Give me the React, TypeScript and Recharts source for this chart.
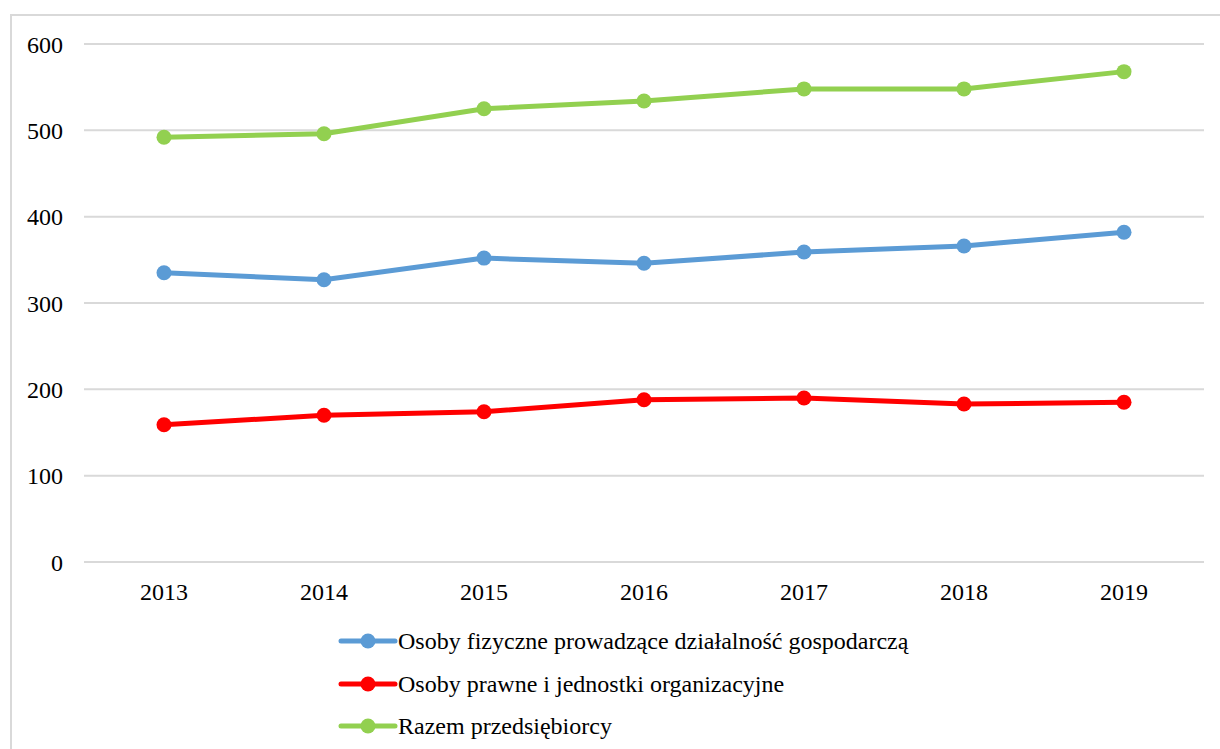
import { LineChart, Line, XAxis, YAxis, CartesianGrid } from 'recharts'

const years = ['2013', '2014', '2015', '2016', '2017', '2018', '2019']
const fizyczne = [335, 327, 352, 346, 359, 366, 382]
const prawne = [159, 170, 174, 188, 190, 183, 185]
const razem = [492, 496, 525, 534, 548, 548, 568]
const yTicks = [0, 100, 200, 300, 400, 500, 600]

const series = [
    { key: 'fizyczne', name: 'Osoby fizyczne prowadzące działalność gospodarczą', color: '#5B9BD5' },
    { key: 'prawne', name: 'Osoby prawne i jednostki organizacyjne', color: '#FF0000' },
    { key: 'razem', name: 'Razem przedsiębiorcy', color: '#92D050' },
]

const data = years.map((year, i) => ({
    year,
    fizyczne: fizyczne[i],
    prawne: prawne[i],
    razem: razem[i],
}))

const font = 'Liberation Serif, DejaVu Serif, serif'

// legend drawn as plain html under the plot, Excel style
function LegendBox() {
    return (
        <div style={{ position: 'absolute', left: 338, top: 620, fontFamily: font, fontSize: 24, color: '#000' }}>
            {series.map(s => (
                <div key={s.key} style={{ display: 'flex', alignItems: 'center', height: 42.5 }}>
                    <svg width={60} height={20}>
                        <line x1={3} y1={10} x2={57} y2={10} stroke={s.color} strokeWidth={5} strokeLinecap="round" />
                        <circle cx={30} cy={10} r={7.5} fill={s.color} />
                    </svg>
                    <span style={{ lineHeight: '24px' }}>{s.name}</span>
                </div>
            ))}
        </div>
    )
}

export default function App() {
    return (
        <div style={{ position: 'fixed', left: 0, top: 0, width: 1220, height: 749, background: '#fff', overflow: 'hidden' }}>
            <div style={{ position: 'absolute', left: 10, top: 14, width: 1230, height: 760, border: '2px solid #d9d9d9', boxSizing: 'border-box' }} />
            <div style={{ position: 'absolute', left: 0, top: 0 }}>
                <LineChart width={1220} height={749} data={data} margin={{ top: 44, right: 16, bottom: 147, left: 24 }}>
                    <CartesianGrid vertical={false} stroke="#d9d9d9" strokeWidth={2} />
                    <XAxis
                        dataKey="year"
                        axisLine={false}
                        tickLine={false}
                        tickMargin={15}
                        height={40}
                        padding={{ left: 80, right: 80 }}
                        tick={{ fill: '#000', fontSize: 24, fontFamily: font }}
                    />
                    <YAxis
                        domain={[0, 600]}
                        ticks={yTicks}
                        axisLine={false}
                        tickLine={false}
                        tickMargin={15}
                        width={60}
                        tick={{ fill: '#000', fontSize: 24, fontFamily: font }}
                    />
                    {series.map(s => (
                        <Line
                            key={s.key}
                            type="linear"
                            dataKey={s.key}
                            name={s.name}
                            stroke={s.color}
                            strokeWidth={5}
                            dot={{ r: 7.5, fill: s.color, stroke: s.color, strokeWidth: 0 }}
                            activeDot={false}
                            isAnimationActive={false}
                        />
                    ))}
                </LineChart>
            </div>
            <LegendBox />
        </div>
    )
}
